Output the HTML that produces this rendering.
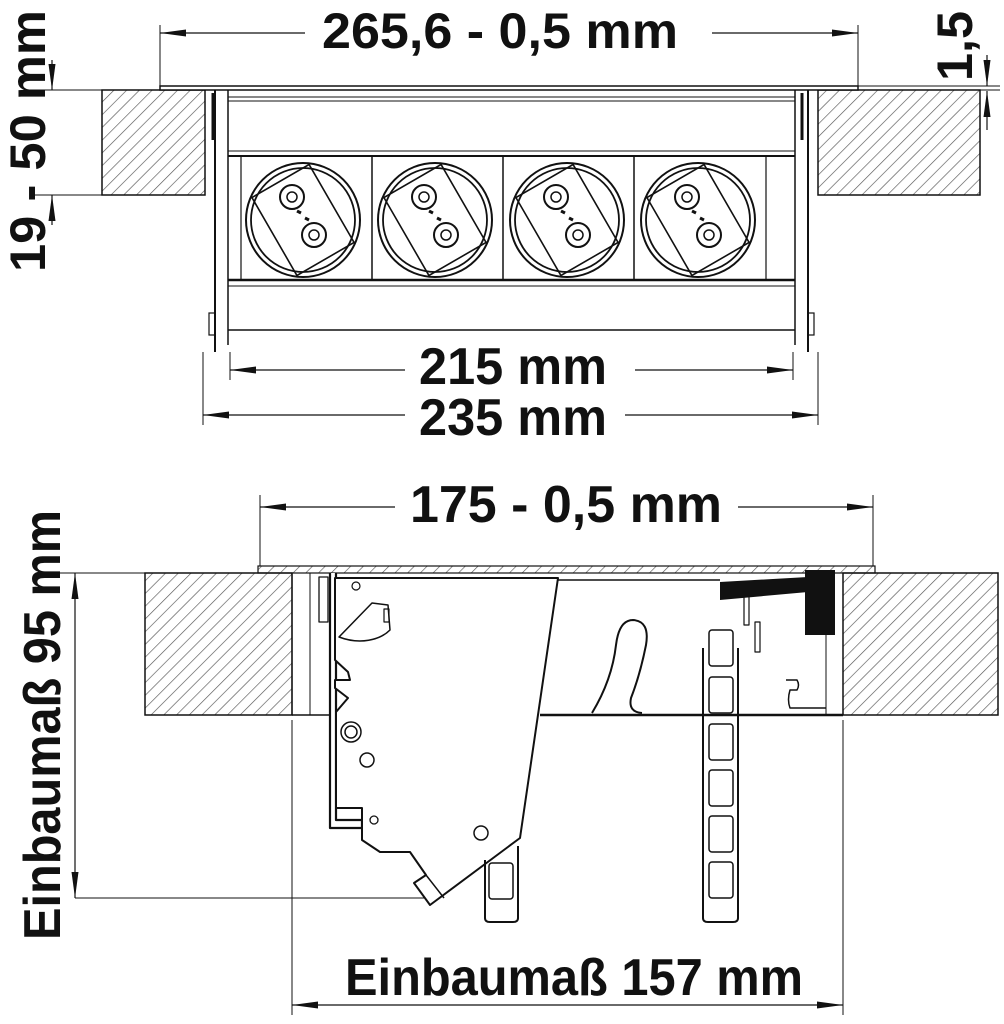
<!DOCTYPE html>
<html><head><meta charset="utf-8"><style>
html,body{margin:0;padding:0;background:#fff;}
svg{display:block;}
text{font-family:"Liberation Sans Narrow","Liberation Sans",sans-serif;font-weight:bold;fill:#111;}
</style></head><body>
<svg width="1004" height="1024" viewBox="0 0 1004 1024" xmlns="http://www.w3.org/2000/svg">
<defs>
<pattern id="h" patternUnits="userSpaceOnUse" width="9" height="9" patternTransform="rotate(45)">
<line x1="0" y1="0" x2="0" y2="9" stroke="#555" stroke-width="1.3"/>
</pattern>
<marker id="a" markerWidth="26" markerHeight="10" refX="26" refY="5" orient="auto" markerUnits="userSpaceOnUse">
<path d="M0,1.5 L26,5 L0,8.5 Z" fill="#111"/>
</marker>
<marker id="b" markerWidth="26" markerHeight="10" refX="0" refY="5" orient="auto" markerUnits="userSpaceOnUse">
<path d="M26,1.5 L0,5 L26,8.5 Z" fill="#111"/>
</marker>
<g id="sock">
<circle r="57" fill="none" stroke="#111" stroke-width="2"/>
<circle r="52" fill="none" stroke="#111" stroke-width="1.8"/>
<g transform="rotate(-30)">
<rect x="-33" y="-45" width="66" height="90" fill="none" stroke="#111" stroke-width="1.6"/>
</g>
<circle cx="-11" cy="-23" r="12" fill="#fff" stroke="#111" stroke-width="2"/>
<circle cx="-11" cy="-23" r="5" fill="none" stroke="#111" stroke-width="1.5"/>
<circle cx="11" cy="15" r="12" fill="#fff" stroke="#111" stroke-width="2"/>
<circle cx="11" cy="15" r="5" fill="none" stroke="#111" stroke-width="1.5"/>
<line x1="-6" y1="-9" x2="-2" y2="-7" stroke="#111" stroke-width="3"/>
<line x1="2" y1="-2" x2="6" y2="0" stroke="#111" stroke-width="3"/>
</g>
<g id="cell"><rect x="0" y="0" width="24" height="36" rx="3" fill="none" stroke="#111" stroke-width="1.5"/></g>
</defs>

<!-- ===== TOP VIEW ===== -->
<g stroke="#111" fill="none">
<line x1="160" y1="25" x2="160" y2="86" stroke-width="1"/>
<line x1="858" y1="25" x2="858" y2="86" stroke-width="1"/>
<line x1="160" y1="33" x2="305" y2="33" stroke-width="1.2" marker-start="url(#b)"/>
<line x1="712" y1="33" x2="858" y2="33" stroke-width="1.2" marker-end="url(#a)"/>
</g>
<text x="500" y="48" font-size="50" text-anchor="middle" textLength="356" lengthAdjust="spacingAndGlyphs">265,6 - 0,5 mm</text>

<rect x="102" y="90" width="103" height="105" fill="url(#h)" stroke="#111" stroke-width="1.5"/>
<rect x="818" y="90" width="162" height="105" fill="url(#h)" stroke="#111" stroke-width="1.5"/>
<rect x="160" y="86" width="698" height="4" fill="#fff" stroke="#111" stroke-width="1.5"/>

<g stroke="#111" fill="none">
<line x1="215" y1="90" x2="215" y2="352" stroke-width="2"/>
<line x1="228" y1="90" x2="228" y2="345" stroke-width="1.5"/>
<line x1="808" y1="90" x2="808" y2="352" stroke-width="2"/>
<line x1="795" y1="90" x2="795" y2="345" stroke-width="1.5"/>
<line x1="228" y1="97" x2="795" y2="97" stroke-width="1"/>
<line x1="228" y1="101" x2="795" y2="101" stroke-width="1"/>
<line x1="228" y1="151" x2="795" y2="151" stroke-width="1"/>
<line x1="228" y1="156" x2="795" y2="156" stroke-width="2"/>
<line x1="228" y1="280" x2="795" y2="280" stroke-width="2.5"/>
<line x1="228" y1="286" x2="795" y2="286" stroke-width="1"/>
<line x1="228" y1="330" x2="795" y2="330" stroke-width="1.5"/>
<line x1="241" y1="156" x2="241" y2="280" stroke-width="1.2"/>
<line x1="372" y1="156" x2="372" y2="280" stroke-width="1.5"/>
<line x1="503" y1="156" x2="503" y2="280" stroke-width="1.5"/>
<line x1="634" y1="156" x2="634" y2="280" stroke-width="1.5"/>
<line x1="766" y1="156" x2="766" y2="280" stroke-width="1.2"/>
<rect x="209" y="313" width="6" height="22" stroke-width="1.2"/>
<rect x="808" y="313" width="6" height="22" stroke-width="1.2"/>
<line x1="213" y1="93" x2="213" y2="140" stroke="#111" stroke-width="3"/>
<line x1="802" y1="93" x2="802" y2="140" stroke="#111" stroke-width="3"/>
</g>
<use href="#sock" x="303" y="220"/>
<use href="#sock" x="435" y="220"/>
<use href="#sock" x="567" y="220"/>
<use href="#sock" x="698" y="220"/>

<g stroke="#111" fill="none">
<line x1="230" y1="352" x2="230" y2="380" stroke-width="1"/>
<line x1="793" y1="352" x2="793" y2="380" stroke-width="1"/>
<line x1="230" y1="370" x2="405" y2="370" stroke-width="1.2" marker-start="url(#b)"/>
<line x1="635" y1="370" x2="793" y2="370" stroke-width="1.2" marker-end="url(#a)"/>
<line x1="203" y1="352" x2="203" y2="425" stroke-width="1"/>
<line x1="818" y1="352" x2="818" y2="425" stroke-width="1"/>
<line x1="203" y1="415" x2="405" y2="415" stroke-width="1.2" marker-start="url(#b)"/>
<line x1="625" y1="415" x2="818" y2="415" stroke-width="1.2" marker-end="url(#a)"/>
</g>
<text x="513" y="384" font-size="52" text-anchor="middle" textLength="188" lengthAdjust="spacingAndGlyphs">215 mm</text>
<text x="513" y="435" font-size="52" text-anchor="middle" textLength="188" lengthAdjust="spacingAndGlyphs">235 mm</text>

<!-- left 19-50 -->
<g stroke="#111" fill="none">
<line x1="30" y1="90" x2="102" y2="90" stroke-width="1"/>
<line x1="30" y1="195" x2="102" y2="195" stroke-width="1"/>
<line x1="52" y1="60" x2="52" y2="90" stroke-width="1.2" marker-end="url(#a)"/>
<line x1="52" y1="225" x2="52" y2="195" stroke-width="1.2" marker-end="url(#a)"/>
</g>
<text transform="translate(45,141) rotate(-90)" font-size="50" text-anchor="middle" textLength="262" lengthAdjust="spacingAndGlyphs">19 - 50 mm</text>
<!-- right 1,5 -->
<g stroke="#111" fill="none">
<line x1="858" y1="86" x2="1000" y2="86" stroke-width="1"/>
<line x1="980" y1="90" x2="1000" y2="90" stroke-width="1"/>
<line x1="987" y1="55" x2="987" y2="86" stroke-width="1.2" marker-end="url(#a)"/>
<line x1="987" y1="130" x2="987" y2="91" stroke-width="1.2" marker-end="url(#a)"/>
</g>
<text transform="translate(972,46) rotate(-90)" font-size="50" text-anchor="middle" textLength="70" lengthAdjust="spacingAndGlyphs">1,5</text>

<!-- ===== SIDE VIEW ===== -->
<g stroke="#111" fill="none">
<line x1="260" y1="495" x2="260" y2="566" stroke-width="1"/>
<line x1="873" y1="495" x2="873" y2="566" stroke-width="1"/>
<line x1="260" y1="507" x2="395" y2="507" stroke-width="1.2" marker-start="url(#b)"/>
<line x1="738" y1="507" x2="873" y2="507" stroke-width="1.2" marker-end="url(#a)"/>
</g>
<text x="566" y="522" font-size="52" text-anchor="middle" textLength="312" lengthAdjust="spacingAndGlyphs">175 - 0,5 mm</text>

<rect x="145" y="573" width="147" height="142" fill="url(#h)" stroke="#111" stroke-width="1.5"/>
<rect x="843" y="573" width="155" height="142" fill="url(#h)" stroke="#111" stroke-width="1.5"/>
<rect x="258" y="566" width="617" height="7" fill="url(#h)" stroke="#111" stroke-width="1.2"/>

<g stroke="#111" fill="none" stroke-linejoin="round">
<line x1="292" y1="573" x2="292" y2="715" stroke-width="1.2"/>
<line x1="310" y1="573" x2="310" y2="715" stroke-width="1"/>
<line x1="826" y1="573" x2="826" y2="715" stroke-width="1"/>
<line x1="335" y1="580" x2="720" y2="580" stroke-width="1.5"/>
<line x1="540" y1="715" x2="843" y2="715" stroke-width="2.5"/>
<line x1="292" y1="715" x2="330" y2="715" stroke-width="1.5"/>
<rect x="319" y="577" width="9" height="45" stroke-width="1.3"/>
<!-- bracket -->
<path d="M330,573 V828 H362 V820 H336 V573" stroke-width="2.2" fill="#fff"/>
<!-- paddle -->
<path d="M335,578 L558,578 L520,838 L430,905 L414,883 L426,875 L410,852 L380,852 L362,840 L362,808 L336,808 L336,712 L348,698 L335,688 L335,680 L350,680 L348,672 L335,660 Z" stroke-width="2" fill="#fff"/>
<path d="M414,883 L426,875 L444,898" stroke-width="1.5"/>
<path d="M339,637 C360,645 380,640 390,630 L388,605 L372,603 Z" stroke-width="1.5"/>
<rect x="384" y="609" width="5" height="13" stroke-width="1.2"/>
<circle cx="351" cy="732" r="10" stroke-width="1.5"/>
<circle cx="351" cy="732" r="6" stroke-width="1.5"/>
<circle cx="367" cy="760" r="7" stroke-width="1.5"/>
<circle cx="374" cy="820" r="4" stroke-width="1.3"/>
<circle cx="481" cy="833" r="7" stroke-width="1.5"/>
<circle cx="356" cy="586" r="4" stroke-width="1.2"/>
<!-- hook -->
<path d="M592,713 Q612,680 616,645 Q619,620 633,620 Q650,621 646,645 Q640,675 631,698 Q628,712 642,713" stroke-width="2"/>
<!-- right bits -->
<path d="M786,680 H797 Q800,685 797,690 H790 Q787,700 790,708 H826" stroke-width="1.5"/>
<rect x="744" y="595" width="5" height="30" stroke-width="1.2"/>
<rect x="755" y="622" width="5" height="30" stroke-width="1.2"/>
<!-- ladder long -->
<path d="M703,648 V918 Q703,922 708,922 H733 Q738,922 738,918 V648" stroke-width="2"/>
<use href="#cell" x="709" y="630"/>
<use href="#cell" x="709" y="677"/>
<use href="#cell" x="709" y="724"/>
<use href="#cell" x="709" y="770"/>
<use href="#cell" x="709" y="816"/>
<use href="#cell" x="709" y="862"/>
<!-- ladder short -->
<path d="M485,860 V918 Q485,922 490,922 H513 Q518,922 518,918 V846" stroke-width="2"/>
<use href="#cell" x="489" y="863"/>
</g>
<path d="M720,582 L808,577 L808,592 L720,600 Z" fill="#111"/>
<rect x="805" y="570" width="30" height="65" fill="#111"/>

<g stroke="#111" fill="none">
<line x1="40" y1="573" x2="145" y2="573" stroke-width="1"/>
<line x1="75" y1="898" x2="425" y2="898" stroke-width="1"/>
<line x1="75" y1="573" x2="75" y2="898" stroke-width="1.2" marker-start="url(#b)" marker-end="url(#a)"/>
<line x1="292" y1="720" x2="292" y2="1015" stroke-width="1"/>
<line x1="843" y1="720" x2="843" y2="1015" stroke-width="1"/>
<line x1="292" y1="1005" x2="843" y2="1005" stroke-width="1.2" marker-start="url(#b)" marker-end="url(#a)"/>
</g>
<text transform="translate(60,725) rotate(-90)" font-size="52" text-anchor="middle" textLength="430" lengthAdjust="spacingAndGlyphs">Einbaumaß 95 mm</text>
<text x="574" y="995" font-size="52" text-anchor="middle" textLength="458" lengthAdjust="spacingAndGlyphs">Einbaumaß 157 mm</text>
</svg>
</body></html>
